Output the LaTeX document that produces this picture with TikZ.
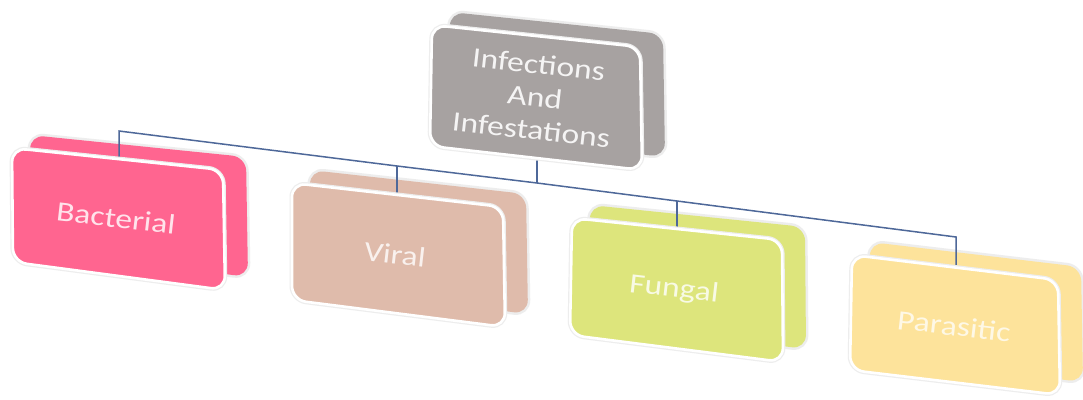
\documentclass[tikz,border=0pt]{standalone}
\usepackage{fontspec}
\setmainfont{Carlito}
\usetikzlibrary{calc}
\definecolor{cinf}{HTML}{A7A2A1}
\definecolor{cbac}{HTML}{FF6590}
\definecolor{cvir}{HTML}{DFBBAB}
\definecolor{cfun}{HTML}{DDE57C}
\definecolor{cpar}{HTML}{FDE39B}
\definecolor{cline}{HTML}{4E6899}
\newcommand\backface[2]{%
  \draw[halo] ($(#1-tl)+(18,-13)$) -- ($(#1-tr)+(23,-13)$) -- ($(#1-br)+(23,-13)$) -- ($(#1-bl)+(18,-13)$) -- cycle;
  \fill[backfill, fill=#2] ($(#1-tl)+(18,-13)$) -- ($(#1-tr)+(23,-13)$) -- ($(#1-br)+(23,-13)$) -- ($(#1-bl)+(18,-13)$) -- cycle;}
\newcommand\frontface[2]{%
  \draw[halo] (#1-tl) -- (#1-tr) -- (#1-br) -- (#1-bl) -- cycle;
  \draw[frontrim, fill=#2] (#1-tl) -- (#1-tr) -- (#1-br) -- (#1-bl) -- cycle;}
\begin{document}
\begin{tikzpicture}[x=1pt,y=-1pt,
  halo/.style={line width=5pt, black!7, rounded corners=14pt},
  backfill/.style={rounded corners=14pt},
  frontrim/.style={line width=2.6pt, white, rounded corners=14pt},
  conn/.style={draw=cline, line width=1.5pt},
  lbl/.style={font=\fontsize{28}{33}\selectfont, rotate=-6.5, xscale=1.2, align=center, inner sep=0pt}]
\fill[white] (0,0) rectangle (1083,399);
\useasboundingbox (0,0) rectangle (1083,399);
% front face corners
\coordinate (inf-tl) at (432,25);  \coordinate (inf-tr) at (640,47);
\coordinate (inf-br) at (642,170); \coordinate (inf-bl) at (430,146);
\coordinate (bac-tl) at (12,148);  \coordinate (bac-tr) at (223,170);
\coordinate (bac-br) at (225,290); \coordinate (bac-bl) at (13,262);
\coordinate (vir-tl) at (292,183); \coordinate (vir-tr) at (503,207);
\coordinate (vir-br) at (505,327); \coordinate (vir-bl) at (292,300);
\coordinate (fun-tl) at (572,218); \coordinate (fun-tr) at (782,240);
\coordinate (fun-br) at (783,362); \coordinate (fun-bl) at (570,335);
\coordinate (par-tl) at (852,255); \coordinate (par-tr) at (1058,280);
\coordinate (par-br) at (1060,395); \coordinate (par-bl) at (850,370);
% back faces
\backface{inf}{cinf}
\backface{bac}{cbac}
\backface{vir}{cvir}
\backface{fun}{cfun}
\backface{par}{cpar}
% connector points
\coordinate (inf-bot) at (537,158);
\coordinate (j-top) at (537,183);
\coordinate (bac-top) at (119,158);
\coordinate (j-bac) at (119,131);
\coordinate (vir-top) at (397,193);
\coordinate (j-vir) at (397,166);
\coordinate (fun-top) at (677,228);
\coordinate (j-fun) at (677,201);
\coordinate (par-top) at (956,265);
\coordinate (j-par) at (956,237);
\draw[conn] (bac-top) -- (j-bac) -- (j-vir) -- (j-top) -- (j-fun) -- (j-par) -- (par-top);
\draw[conn] (j-vir) -- (vir-top);
\draw[conn] (j-fun) -- (fun-top);
\draw[conn] (inf-bot) -- (j-top);
% front faces
\frontface{inf}{cinf}
\frontface{bac}{cbac}
\frontface{vir}{cvir}
\frontface{fun}{cfun}
\frontface{par}{cpar}
% labels
\node[lbl, text=white!88!cinf] (inf) at (535,97) {Infections\\And\\Infestations};
\node[lbl, text=white!82!cbac] (bac) at (116,218) {Bacterial};
\node[lbl, text=white!80!cvir] (vir) at (395,254) {Viral};
\node[lbl, text=white!80!cfun] (fun) at (674,290) {Fungal};
\node[lbl, text=white!75!cpar] (par) at (954,326) {Parasitic};
\end{tikzpicture}
\end{document}
